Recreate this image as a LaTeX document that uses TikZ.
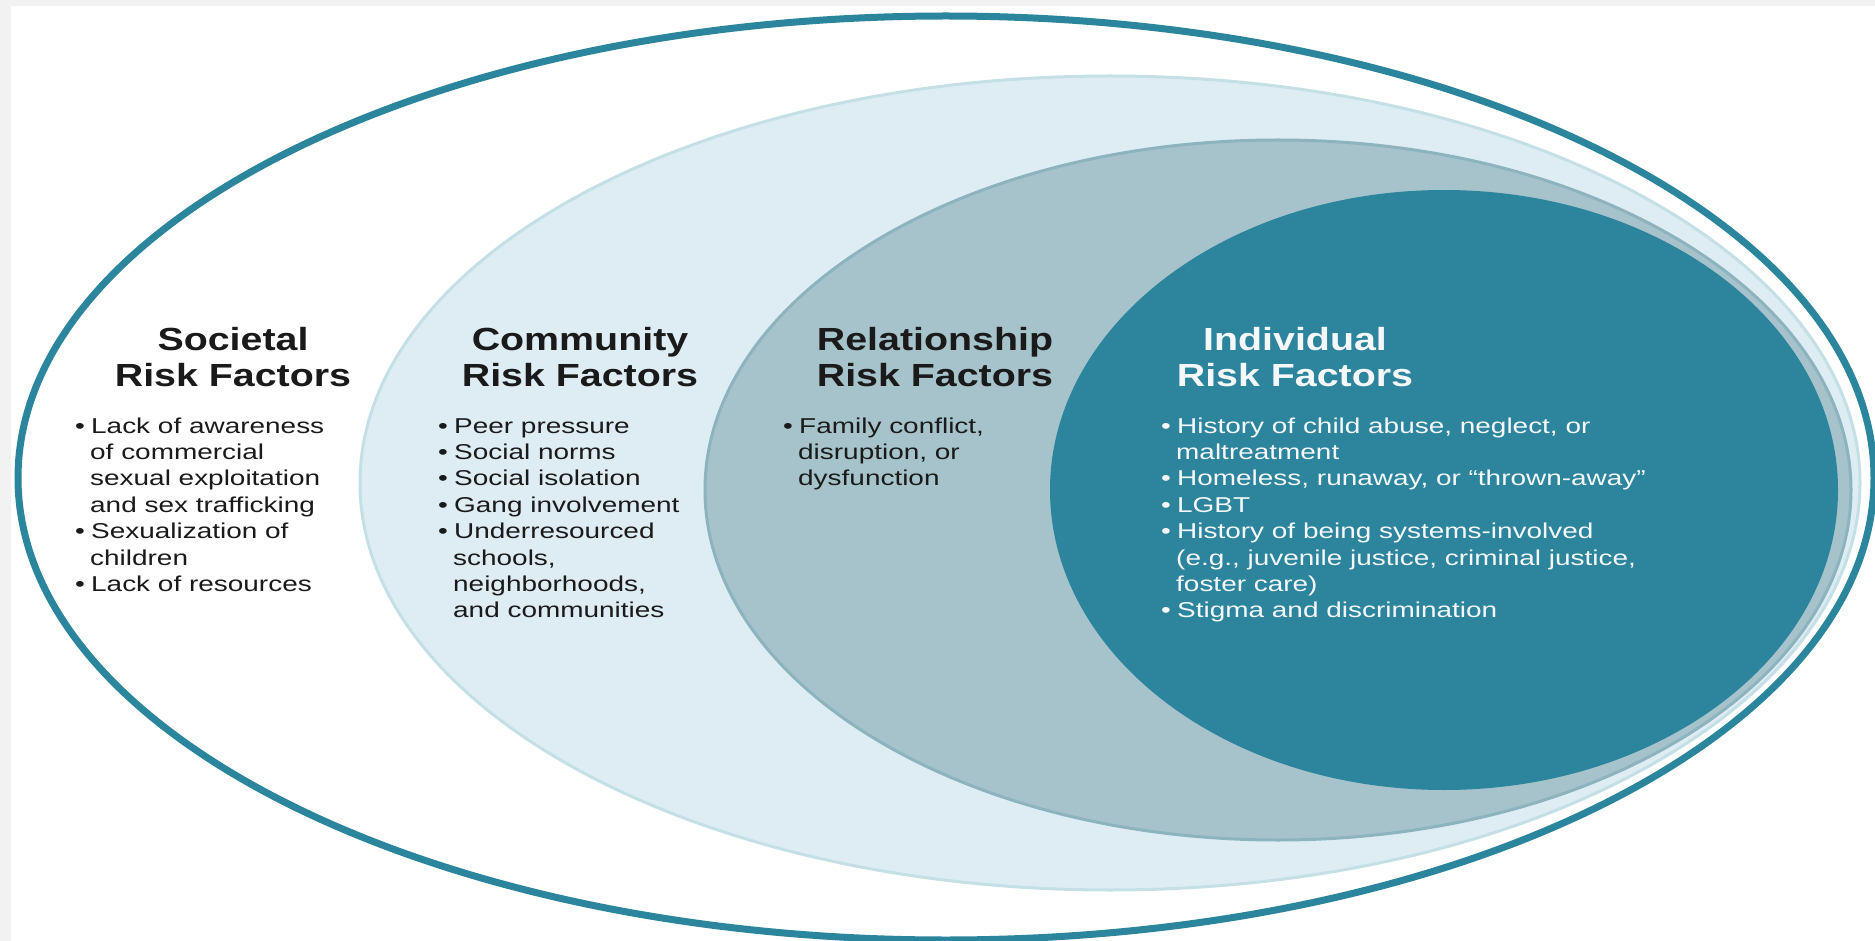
\documentclass[tikz,border=0pt]{standalone}
\usepackage{fontspec}
\setmainfont{Liberation Sans}[FakeStretch=1.3]
\newfontfamily\bodyfont{Liberation Sans}[FakeStretch=1.3]
\newfontfamily\titlefont{Liberation Sans}[FakeStretch=1.23]
\definecolor{ringteal}{HTML}{2B859D}
\definecolor{indfill}{HTML}{2C849D}
\definecolor{relfill}{HTML}{A6C3CB}
\definecolor{reledge}{HTML}{8DB3BF}
\definecolor{comfill}{HTML}{DEEDF3}
\definecolor{comedge}{HTML}{C5DFE7}
\definecolor{margin}{HTML}{F2F2F2}
\definecolor{darktext}{HTML}{1A1A1A}
\definecolor{lighttext}{HTML}{F4F8FA}
\newcommand{\bl}{\makebox[16pt][l]{\textbullet}}
\newcommand{\ind}{\hspace*{15pt}}
\tikzset{
  ttl/.style={font=\titlefont\bfseries\fontsize{32}{36}\selectfont, inner sep=0pt, anchor=base},
  body/.style={font=\bodyfont\fontsize{21.5}{26.4}\selectfont, inner sep=0pt, anchor=base west},
}
\begin{document}
\begin{tikzpicture}[x=1pt,y=-1pt]
\useasboundingbox (0,0) rectangle (1875,941);
\fill[margin] (0,0) rectangle (1875,941);
\fill[white] (11,6) rectangle (1875,941);
% nested ellipses
\filldraw[fill=comfill, draw=comedge, line width=3pt] (1110,483) ellipse [x radius=750pt, y radius=407pt];
\filldraw[fill=relfill, draw=reledge, line width=3pt] (1278,490) ellipse [x radius=573pt, y radius=350pt];
\fill[indfill] (1444,490) ellipse [x radius=394pt, y radius=300pt];
\begin{scope}
\clip (0,0) rectangle (1875,941);
\draw[ringteal, line width=7pt] (946,478) ellipse [x radius=928pt, y radius=462pt];
\end{scope}
% titles
\node[ttl, text=darktext] (soc) at (233,351) {\begin{tabular}[t]{@{}c@{}}Societal\\Risk Factors\end{tabular}};
\node[ttl, text=darktext] (com) at (580,351) {\begin{tabular}[t]{@{}c@{}}Community\\Risk Factors\end{tabular}};
\node[ttl, text=darktext] (rel) at (935,351) {\begin{tabular}[t]{@{}c@{}}Relationship\\Risk Factors\end{tabular}};
\node[ttl, text=lighttext] (ind) at (1295,351) {\begin{tabular}[t]{@{}c@{}}Individual\\Risk Factors\end{tabular}};
% lists
\node[body, text=darktext] (socl) at (75,433) {\begin{tabular}[t]{@{}l@{}}
\bl Lack of awareness\\
\ind of commercial\\
\ind sexual exploitation\\
\ind and sex trafficking\\
\bl Sexualization of\\
\ind children\\
\bl Lack of resources
\end{tabular}};
\node[body, text=darktext] (coml) at (438,433) {\begin{tabular}[t]{@{}l@{}}
\bl Peer pressure\\
\bl Social norms\\
\bl Social isolation\\
\bl Gang involvement\\
\bl Underresourced\\
\ind schools,\\
\ind neighborhoods,\\
\ind and communities
\end{tabular}};
\node[body, text=darktext] (rell) at (783,433) {\begin{tabular}[t]{@{}l@{}}
\bl Family conflict,\\
\ind disruption, or\\
\ind dysfunction
\end{tabular}};
\node[body, text=lighttext] (indl) at (1161,433) {\begin{tabular}[t]{@{}l@{}}
\bl History of child abuse, neglect, or\\
\ind maltreatment\\
\bl Homeless, runaway, or “thrown-away”\\
\bl LGBT\\
\bl History of being systems-involved\\
\ind (e.g., juvenile justice, criminal justice,\\
\ind foster care)\\
\bl Stigma and discrimination
\end{tabular}};
\end{tikzpicture}
\end{document}
